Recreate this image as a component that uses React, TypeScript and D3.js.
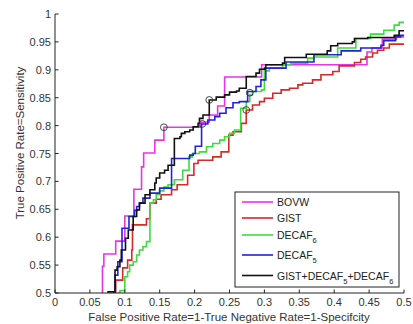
import React from "react";
import * as d3 from "d3";

const W = 413;
const H = 324;

const xTicks = [0, 0.05, 0.1, 0.15, 0.2, 0.25, 0.3, 0.35, 0.4, 0.45, 0.5];
const yTicks = [0.5, 0.55, 0.6, 0.65, 0.7, 0.75, 0.8, 0.85, 0.9, 0.95, 1];

const xTitle = "False Positive Rate=1-True Negative Rate=1-Specifcity";
const yTitle = "True Positive Rate=Sensitivity";

const BOVW: [number, number][] = [
  [0.068, 0.5], [0.068, 0.548], [0.070, 0.570], [0.087, 0.593], [0.100, 0.638],
  [0.113, 0.686], [0.124, 0.726], [0.127, 0.751], [0.143, 0.774], [0.156, 0.797],
  [0.209, 0.806], [0.221, 0.819], [0.233, 0.835], [0.243, 0.887], [0.296, 0.909],
  [0.447, 0.932], [0.454, 0.939], [0.469, 0.955], [0.489, 0.959], [0.5, 0.959],
];

const GIST: [number, number][] = [
  [0.087, 0.5], [0.087, 0.523], [0.097, 0.545], [0.104, 0.559], [0.110, 0.577],
  [0.111, 0.622], [0.131, 0.633], [0.136, 0.661], [0.145, 0.668], [0.152, 0.676],
  [0.167, 0.685], [0.175, 0.694], [0.190, 0.711], [0.199, 0.732], [0.205, 0.738],
  [0.226, 0.744], [0.238, 0.753], [0.249, 0.783], [0.255, 0.789], [0.267, 0.804],
  [0.274, 0.828], [0.283, 0.837], [0.293, 0.843], [0.300, 0.849], [0.312, 0.858],
  [0.324, 0.864], [0.336, 0.867], [0.348, 0.873], [0.355, 0.876], [0.369, 0.882],
  [0.381, 0.891], [0.398, 0.897], [0.407, 0.907], [0.429, 0.913], [0.438, 0.919],
  [0.445, 0.923], [0.455, 0.930], [0.462, 0.935], [0.471, 0.939], [0.479, 0.946],
  [0.5, 0.946],
];

const DECAF6: [number, number][] = [
  [0.090, 0.5], [0.093, 0.504], [0.100, 0.529], [0.104, 0.538], [0.107, 0.550],
  [0.112, 0.556], [0.117, 0.568], [0.121, 0.577], [0.126, 0.583], [0.131, 0.592],
  [0.136, 0.661], [0.141, 0.667], [0.145, 0.676], [0.150, 0.683], [0.156, 0.690],
  [0.162, 0.694], [0.171, 0.703], [0.183, 0.720], [0.192, 0.744], [0.197, 0.750],
  [0.207, 0.753], [0.217, 0.762], [0.226, 0.768], [0.236, 0.774], [0.243, 0.780],
  [0.250, 0.786], [0.257, 0.792], [0.266, 0.831], [0.274, 0.843], [0.279, 0.855],
  [0.283, 0.861], [0.296, 0.864], [0.300, 0.898], [0.307, 0.903], [0.326, 0.909],
  [0.338, 0.912], [0.362, 0.921], [0.371, 0.923], [0.405, 0.939], [0.431, 0.956],
  [0.452, 0.964], [0.471, 0.971], [0.486, 0.980], [0.493, 0.985], [0.5, 0.985],
];

const DECAF5: [number, number][] = [
  [0.083, 0.5], [0.086, 0.532], [0.090, 0.556], [0.096, 0.616], [0.106, 0.637],
  [0.114, 0.648], [0.117, 0.655], [0.121, 0.661], [0.126, 0.670], [0.136, 0.679],
  [0.150, 0.688], [0.167, 0.741], [0.193, 0.747], [0.198, 0.750], [0.201, 0.763],
  [0.210, 0.803], [0.219, 0.810], [0.229, 0.816], [0.236, 0.822], [0.245, 0.832],
  [0.255, 0.841], [0.264, 0.843], [0.276, 0.861], [0.288, 0.870], [0.295, 0.882],
  [0.302, 0.903], [0.331, 0.914], [0.371, 0.927], [0.410, 0.934], [0.438, 0.939],
  [0.467, 0.944], [0.471, 0.952], [0.488, 0.959], [0.495, 0.962], [0.5, 0.962],
];

const FUSION: [number, number][] = [
  [0.076, 0.5], [0.076, 0.502], [0.086, 0.541], [0.089, 0.547], [0.093, 0.559],
  [0.095, 0.577], [0.101, 0.598], [0.105, 0.613], [0.112, 0.637], [0.117, 0.649],
  [0.121, 0.661], [0.129, 0.676], [0.136, 0.685], [0.143, 0.697], [0.145, 0.706],
  [0.150, 0.715], [0.157, 0.720], [0.162, 0.729], [0.171, 0.777], [0.179, 0.780],
  [0.181, 0.786], [0.186, 0.789], [0.193, 0.792], [0.198, 0.798], [0.205, 0.804],
  [0.207, 0.813], [0.212, 0.819], [0.221, 0.846], [0.231, 0.851], [0.243, 0.855],
  [0.250, 0.860], [0.260, 0.862], [0.264, 0.867], [0.274, 0.888], [0.288, 0.894],
  [0.293, 0.901], [0.300, 0.903], [0.302, 0.909], [0.326, 0.912], [0.329, 0.922],
  [0.360, 0.928], [0.390, 0.934], [0.395, 0.943], [0.405, 0.947], [0.426, 0.950],
  [0.429, 0.956], [0.448, 0.958], [0.486, 0.962], [0.493, 0.970], [0.5, 0.970],
];

// operating points marked with circles
const markers: [number, number][] = [
  [0.156, 0.797],
  [0.274, 0.828],
  [0.279, 0.859],
  [0.211, 0.803],
  [0.221, 0.846],
];

const seriesNames = ["BOVW", "GIST", "DECAF6", "DECAF5", "FUSION"];
const seriesColors = ["#e833e8", "#d42a2a", "#3cdc3c", "#2222d6", "#111111"];
const seriesData = [BOVW, GIST, DECAF6, DECAF5, FUSION];

const FONT = "'Liberation Sans', Arial, Helvetica, sans-serif";

function LegendLabel({ name }: { name: string }) {
  const sub = { fontSize: 7.5 };
  if (name === "DECAF6")
    return (
      <>
        DECAF<tspan dy={4} style={sub}>6</tspan>
      </>
    );
  if (name === "DECAF5")
    return (
      <>
        DECAF<tspan dy={4} style={sub}>5</tspan>
      </>
    );
  if (name === "FUSION")
    return (
      <>
        GIST+DECAF<tspan dy={4} style={sub}>5</tspan>
        <tspan dy={-4}>+DECAF</tspan>
        <tspan dy={4} style={sub}>6</tspan>
      </>
    );
  return <>{name}</>;
}

export default function App() {
  const x = d3.scaleLinear().domain([0, 0.5]).range([55, 404]);
  const y = d3.scaleLinear().domain([0.5, 1]).range([293, 14]);
  const line = d3
    .line<[number, number]>()
    .x((d) => x(d[0]))
    .y((d) => y(d[1]))
    .curve(d3.curveStepAfter);

  const legendX = 235;
  const legendY = 192;
  const legendRows = [202, 218, 235, 255, 275.5];

  return (
    <div style={{ position: "absolute", left: 0, top: 0 }}>
      <svg width={W} height={H} style={{ display: "block", background: "#fff", fontFamily: FONT }}>
        <defs>
          <clipPath id="plot">
            <rect x={55} y={10} width={352} height={283} />
          </clipPath>
        </defs>
        <rect x={0} y={0} width={W} height={H} fill="#fff" />

        <g clipPath="url(#plot)">
          {seriesData.map((d, i) => (
            <path key={i} d={line(d) || ""} fill="none" stroke={seriesColors[i]} strokeWidth={1.6} />
          ))}
          {markers.map((m, i) => (
            <circle key={i} cx={x(m[0])} cy={y(m[1])} r={3.4} fill="none" stroke="#333" strokeWidth={0.9} />
          ))}
        </g>

        {/* axes */}
        <line x1={x(0)} x2={x(0.5)} y1={y(0.5)} y2={y(0.5)} stroke="#222" strokeWidth={1} />
        <line x1={x(0)} x2={x(0)} y1={y(0.5)} y2={y(1)} stroke="#222" strokeWidth={1} />
        {xTicks.map((t) => (
          <g key={"x" + t}>
            <line x1={x(t)} x2={x(t)} y1={y(0.5)} y2={y(0.5) - 3.5} stroke="#222" />
            <text x={x(t)} y={306} textAnchor="middle" fontSize={11} fill="#333">
              {String(t)}
            </text>
          </g>
        ))}
        {yTicks.map((t) => (
          <g key={"y" + t}>
            <line x1={x(0)} x2={x(0) + 3.5} y1={y(t)} y2={y(t)} stroke="#222" />
            <text x={51} y={y(t) + 4} textAnchor="end" fontSize={11} fill="#333">
              {String(t)}
            </text>
          </g>
        ))}

        <text x={229} y={320.5} textAnchor="middle" fontSize={11.5} fill="#333">
          {xTitle}
        </text>
        <text
          transform={`translate(24,143) rotate(-90)`}
          textAnchor="middle"
          fontSize={11.5}
          fill="#333"
        >
          {yTitle}
        </text>

        {/* legend */}
        <rect x={legendX} y={legendY} width={164} height={95} fill="#fff" stroke="#222" strokeWidth={1} />
        {seriesNames.map((n, i) => (
          <g key={n}>
            <line x1={242} x2={273} y1={legendRows[i]} y2={legendRows[i]} stroke={seriesColors[i]} strokeWidth={1.6} />
            <text x={277} y={legendRows[i] + 4} fontSize={10.5} fill="#222">
              <LegendLabel name={n} />
            </text>
          </g>
        ))}
      </svg>
    </div>
  );
}
